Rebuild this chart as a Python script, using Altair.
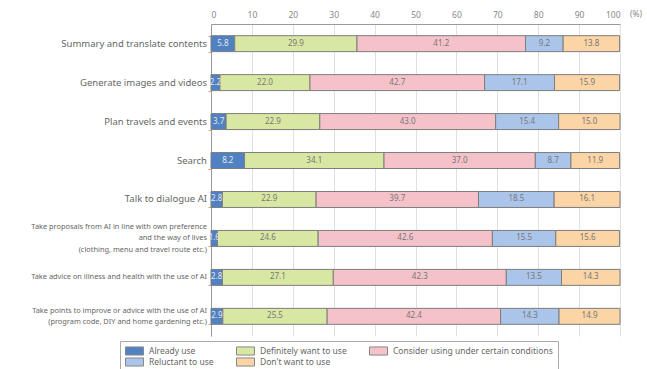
import altair as alt
import pandas as pd

cats = [
    "Summary and translate contents",
    "Generate images and videos",
    "Plan travels and events",
    "Search",
    "Talk to dialogue AI",
    "Take proposals from AI in line with own preference|and the way of lives|(clothing, menu and travel route etc.)",
    "Take advice on illness and health with the use of AI",
    "Take points to improve or advice with the use of AI|(program code, DIY and home gardening etc.)",
]
small_cats = cats[5:]
series = [
    "Already use",
    "Definitely want to use",
    "Consider using under certain conditions",
    "Reluctant to use",
    "Don't want to use",
]
colors = ["#5081c3", "#d8e8a2", "#f5c2ca", "#abc5ea", "#fbd5a5"]

already = [5.8, 2.2, 3.7, 8.2, 2.8, 1.6, 2.8, 2.9]
definitely = [29.9, 22.0, 22.9, 34.1, 22.9, 24.6, 27.1, 25.5]
consider = [41.2, 42.7, 43.0, 37.0, 39.7, 42.6, 42.3, 42.4]
reluctant = [9.2, 17.1, 15.4, 8.7, 18.5, 15.5, 13.5, 14.3]
dont = [13.8, 15.9, 15.0, 11.9, 16.1, 15.6, 14.3, 14.9]
x_ticks = [0, 10, 20, 30, 40, 50, 60, 70, 80, 90, 100]

all_vals = [already, definitely, consider, reluctant, dont]
rows = []
for i, c in enumerate(cats):
    start = 0.0
    for j, s in enumerate(series):
        v = all_vals[j][i]
        rows.append(dict(cat=c, series=s, idx=j, v0=round(start, 2),
                         v1=round(start + v, 2), mid=round(start + v / 2, 2),
                         label=f"{v:.1f}"))
        start += v
df = pd.DataFrame(rows)
cat_df = pd.DataFrame({"cat": cats})

FONT = "Noto Sans"
LH = 11.5

y_axis = alt.Axis(
    labels=False, domainColor="#999", tickColor="#d9a070",
    tickBand="extent", tickSize=3,
)
y_scale = alt.Scale(domain=cats, paddingInner=0.59, paddingOuter=0.3)

bars = alt.Chart(df).mark_bar(stroke="#7d7d7d", strokeWidth=1).encode(
    x=alt.X("v0:Q", title=None,
            scale=alt.Scale(domain=[0, 100], nice=False),
            axis=alt.Axis(orient="top", values=x_ticks, labelColor="#888",
                          labelFont=FONT, labelFontSize=8.5, gridColor="#e0e0e0",
                          domainColor="#999", ticks=False,
                          labelPadding=5)),
    x2="v1:Q",
    y=alt.Y("cat:N", title=None, scale=y_scale, axis=y_axis),
    color=alt.Color("series:N",
                    scale=alt.Scale(domain=series, range=colors),
                    legend=alt.Legend(
                        title=None, orient="none", legendX=-91, legendY=317,
                        columns=3, direction="horizontal",
                        symbolType="M-1,-0.45L1,-0.45L1,0.45L-1,0.45Z", symbolSize=324,
                        symbolStrokeColor="#888", symbolStrokeWidth=1,
                        labelFont=FONT, labelFontSize=8.5, labelColor="#666",
                        labelOffset=5, columnPadding=22, rowPadding=1, padding=5,
                        clipHeight=10,
                        strokeColor="#aaa", labelLimit=300,
                    )),
)

texts = alt.Chart(df).mark_text(font=FONT, fontSize=8, color="#777").encode(
    x=alt.X("mid:Q"),
    y=alt.Y("cat:N", scale=y_scale),
    text="label:N",
).transform_filter("datum.idx > 0")

texts0 = alt.Chart(df).mark_text(font=FONT, fontSize=8, color="#e6e6e6").encode(
    x=alt.X("mid:Q"),
    y=alt.Y("cat:N", scale=y_scale),
    text="label:N",
).transform_filter("datum.idx == 0")

ylab_big = alt.Chart(cat_df).mark_text(
    font=FONT, fontSize=9.5, color="#666", align="right", baseline="middle", dx=-4
).encode(
    x=alt.value(0), y=alt.Y("cat:N", scale=y_scale), text="cat:N"
).transform_filter(alt.FieldOneOfPredicate(field="cat", oneOf=small_cats).__invert__())


def small_layer(n_lines):
    return alt.Chart(cat_df).mark_text(
        font=FONT, fontSize=7.4, color="#666", align="right", baseline="middle",
        dx=-4, dy=-(n_lines - 1) * LH / 2, lineHeight=LH
    ).transform_filter(
        alt.FieldOneOfPredicate(field="cat", oneOf=small_cats)
    ).transform_calculate(
        lines="split(datum.cat, '|')"
    ).transform_filter(
        f"length(datum.lines) == {n_lines}"
    ).encode(
        x=alt.value(0), y=alt.Y("cat:N", scale=y_scale), text="lines:N"
    )


pct = alt.Chart(pd.DataFrame({"t": ["(%)"]})).mark_text(
    font=FONT, fontSize=8.5, color="#888", align="left", baseline="bottom", dx=10, dy=-5
).encode(x=alt.datum(100), y=alt.value(0), text="t:N")

chart = alt.layer(
    bars, texts, texts0, ylab_big, small_layer(1), small_layer(2), small_layer(3), pct
).properties(
    width=409, height=312,
    autosize=alt.AutoSizeParams(type="none"),
    padding={"left": 211, "top": 24, "right": 27, "bottom": 33},
).configure_view(stroke=None)

chart.save("out.html", embed_options={"renderer": "svg", "actions": False})
